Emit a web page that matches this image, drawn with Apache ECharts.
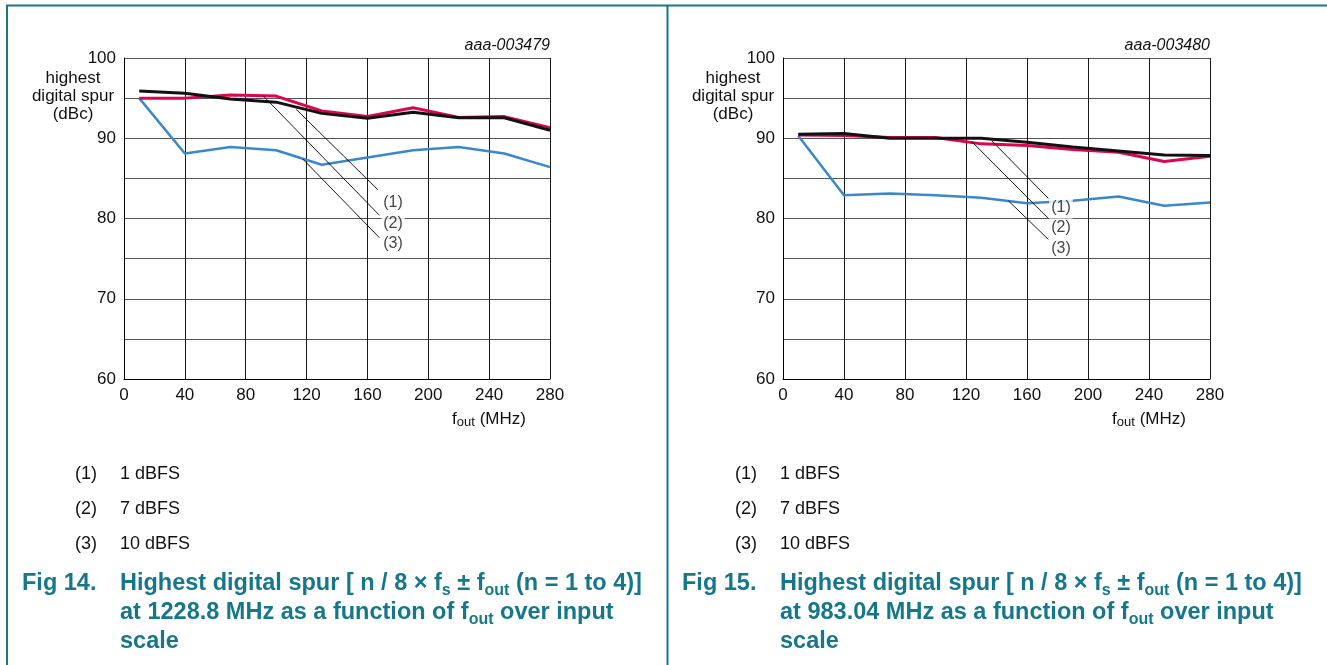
<!DOCTYPE html>
<html>
<head>
<meta charset="utf-8">
<script src="https://cdn.jsdelivr.net/npm/echarts@6/dist/echarts.min.js"></script>
<style>
  html, body { margin: 0; padding: 0; background: #fff; }
  #chart { width: 1327px; height: 665px; }
</style>
</head>
<body>
<div id="chart"></div>
<script>
// ---- data ----
const xFreq = [10, 40, 70, 100, 130, 160, 190, 220, 250, 280];
const xTicks = [0, 40, 80, 120, 160, 200, 240, 280];
const yTicks = [60, 70, 80, 90, 100];

const fig14_1dBFS  = [95.9, 95.6, 94.9, 94.5, 93.1, 92.5, 93.25, 92.55, 92.55, 91.0];
const fig14_7dBFS  = [95.0, 95.0, 95.4, 95.25, 93.4, 92.7, 93.8, 92.6, 92.7, 91.3];
const fig14_10dBFS = [95.0, 88.1, 88.9, 88.5, 86.7, 87.6, 88.5, 88.9, 88.1, 86.4];

const fig15_1dBFS  = [90.5, 90.6, 90.0, 90.0, 90.0, 89.5, 88.9, 88.4, 87.9, 87.85];
const fig15_7dBFS  = [90.4, 90.35, 90.1, 90.1, 89.3, 89.1, 88.6, 88.25, 87.1, 87.75];
const fig15_10dBFS = [90.3, 82.9, 83.1, 82.9, 82.6, 81.9, 82.2, 82.75, 81.6, 82.0];

const curveTags = ['(1)', '(2)', '(3)'];
const legendTexts = ['1 dBFS', '7 dBFS', '10 dBFS'];
const figIds = ['aaa-003479', 'aaa-003480'];

// annotation anchors (data space): leader start, leader end, label point
const fig14Leaders = [[[113.2, 93.6], [166.8, 83.6]], [[91.4, 95.3], [167.9, 80.4]], [[117.6, 87.4], [167.9, 77.6]]];
const fig14Labels  = [[176.8, 82.0], [176.8, 79.4], [176.8, 76.9]];
const fig15Leaders = [[[136.8, 89.7], [174.0, 82.5]], [[123.7, 89.6], [174.0, 80.0]], [[147.8, 82.2], [174.0, 77.4]]];
const fig15Labels  = [[182.3, 81.4], [182.3, 78.9], [182.3, 76.3]];

// ---- styles ----
const FONT = "'Liberation Sans', Arial, sans-serif";
const TEAL = '#16778a';
const BLUE = '#3a88cc';
const RED = '#da0650';
const BLACK = '#111111';

const pairs = (arr) => xFreq.map((x, i) => [x, arr[i]]);

function xAxisDef(idx) {
  return {
    type: 'value', gridIndex: idx, min: 0, max: 280, interval: 40,
    axisLine: { show: true, lineStyle: { color: '#000', width: 1 } },
    axisTick: { show: false },
    axisLabel: { fontFamily: FONT, fontSize: 17, color: '#111', margin: 8,
      customValues: xTicks },
    splitLine: { show: true, lineStyle: { color: '#1a1a1a', width: 1 } }
  };
}
function yAxisDef(idx) {
  return {
    type: 'value', gridIndex: idx, min: 60, max: 100, interval: 5,
    axisLine: { show: true, lineStyle: { color: '#000', width: 1 } },
    axisTick: { show: false },
    axisLabel: { fontFamily: FONT, fontSize: 17, color: '#111', margin: 8,
      formatter: (v) => (yTicks.indexOf(v) >= 0 ? String(v) : '') },
    splitLine: { show: true, lineStyle: { color: '#555', width: 1 } }
  };
}

function curveSeries(idx, data, color, width, z) {
  return {
    type: 'line', xAxisIndex: idx, yAxisIndex: idx, data: pairs(data),
    symbol: 'none', silent: true, z: z,
    lineStyle: { color: color, width: width }
  };
}
function leaderSeries(idx, seg) {
  return {
    type: 'line', xAxisIndex: idx, yAxisIndex: idx, data: seg,
    symbol: 'none', silent: true, z: 6,
    lineStyle: { color: '#000', width: 0.9 }
  };
}
function tagSeries(idx, pts) {
  return {
    type: 'scatter', xAxisIndex: idx, yAxisIndex: idx, silent: true, z: 10,
    symbolSize: 1, itemStyle: { color: 'rgba(0,0,0,0)' },
    data: pts.map((p, i) => [p[0], p[1], curveTags[i]]),
    label: {
      show: true, position: 'inside', formatter: (p) => p.data[2],
      fontFamily: FONT, fontSize: 16, color: '#111',
      backgroundColor: '#fff', padding: [1, 2, 1, 2]
    }
  };
}

const series = [];
[[fig14_10dBFS, fig14_7dBFS, fig14_1dBFS, fig14Leaders, fig14Labels],
 [fig15_10dBFS, fig15_7dBFS, fig15_1dBFS, fig15Leaders, fig15Labels]].forEach((set, idx) => {
  series.push(curveSeries(idx, set[0], BLUE, 2.5, 3));
  series.push(curveSeries(idx, set[1], RED, 3, 4));
  series.push(curveSeries(idx, set[2], BLACK, 3, 5));
  set[3].forEach((seg) => series.push(leaderSeries(idx, seg)));
  series.push(tagSeries(idx, set[4]));
});

// ---- text blocks ----
function textEl(x, y, text, opts) {
  return { type: 'text', silent: true, z: 20,
    style: Object.assign({ x: x, y: y, text: text, fill: '#111',
      font: '18px ' + FONT, align: 'left', verticalAlign: 'middle' }, opts || {}) };
}
const capRich = {
  n: { fontFamily: FONT, fontSize: 23.5, fontWeight: 'bold', fill: TEAL, lineHeight: 29, verticalAlign: 'middle' },
  s: { fontFamily: FONT, fontSize: 16, fontWeight: 'bold', fill: TEAL, lineHeight: 17, verticalAlign: 'bottom' }
};
const nameRich = {
  n: { fontFamily: FONT, fontSize: 17, fill: '#111', lineHeight: 20, verticalAlign: 'middle' },
  s: { fontFamily: FONT, fontSize: 13, fill: '#111', lineHeight: 12, verticalAlign: 'bottom' }
};

const captions = [
  { fig: 'Fig 14.', line2: 'at 1228.8 MHz as a function of ' },
  { fig: 'Fig 15.', line2: 'at 983.04 MHz as a function of ' }
];

const graphics = [];
// frame
graphics.push({ type: 'line', silent: true, shape: { x1: 6, y1: 5.5, x2: 1327, y2: 5.5 }, style: { stroke: TEAL, lineWidth: 2 } });
graphics.push({ type: 'line', silent: true, shape: { x1: 7, y1: 5, x2: 7, y2: 665 }, style: { stroke: TEAL, lineWidth: 2 } });
graphics.push({ type: 'line', silent: true, shape: { x1: 667.5, y1: 5, x2: 667.5, y2: 665 }, style: { stroke: TEAL, lineWidth: 2 } });

const colX = [0, 660];
const plotRight = [550, 1210];
const nameCx = [73, 733];
const axisNameCx = [489, 1149];
colX.forEach((dx, i) => {
  graphics.push(textEl(plotRight[i], 46, figIds[i], { font: 'italic 16px ' + FONT, align: 'right' }));
  graphics.push(textEl(nameCx[i], 96, 'highest\ndigital spur\n(dBc)', { font: '17px ' + FONT, align: 'center', lineHeight: 18 }));
  graphics.push({ type: 'text', silent: true, z: 20, style: { x: axisNameCx[i], y: 419, align: 'center', verticalAlign: 'middle',
    text: '{n|f}{s|out}{n| (MHz)}', rich: nameRich } });
  curveTags.forEach((t, k) => {
    graphics.push(textEl(75 + dx, 474 + k * 35, t));
    graphics.push(textEl(120 + dx, 474 + k * 35, legendTexts[k]));
  });
  graphics.push({ type: 'text', silent: true, z: 20, style: { x: 22 + dx, y: 584, align: 'left', verticalAlign: 'middle',
    fill: TEAL, text: '{n|' + captions[i].fig + '}', rich: capRich } });
  graphics.push({ type: 'text', silent: true, z: 20, style: { x: 120 + dx, y: 569.5, align: 'left', verticalAlign: 'top',
    fill: TEAL,
    text: '{n|Highest digital spur [ n / 8 \u00d7 f}{s|s}{n| \u00b1 f}{s|out}{n| (n = 1 to 4)]}\n' +
          '{n|' + captions[i].line2 + 'f}{s|out}{n| over input}\n{n|scale}',
    rich: capRich } });
});

const chart = echarts.init(document.getElementById('chart'), null, { renderer: 'canvas' });
chart.setOption({
  animation: false,
  backgroundColor: '#fff',
  grid: [
    { left: 124, top: 58, width: 426, height: 321 },
    { left: 783, top: 58, width: 427, height: 321 }
  ],
  xAxis: [xAxisDef(0), xAxisDef(1)],
  yAxis: [yAxisDef(0), yAxisDef(1)],
  series: series,
  graphic: graphics
});
</script>
</body>
</html>
